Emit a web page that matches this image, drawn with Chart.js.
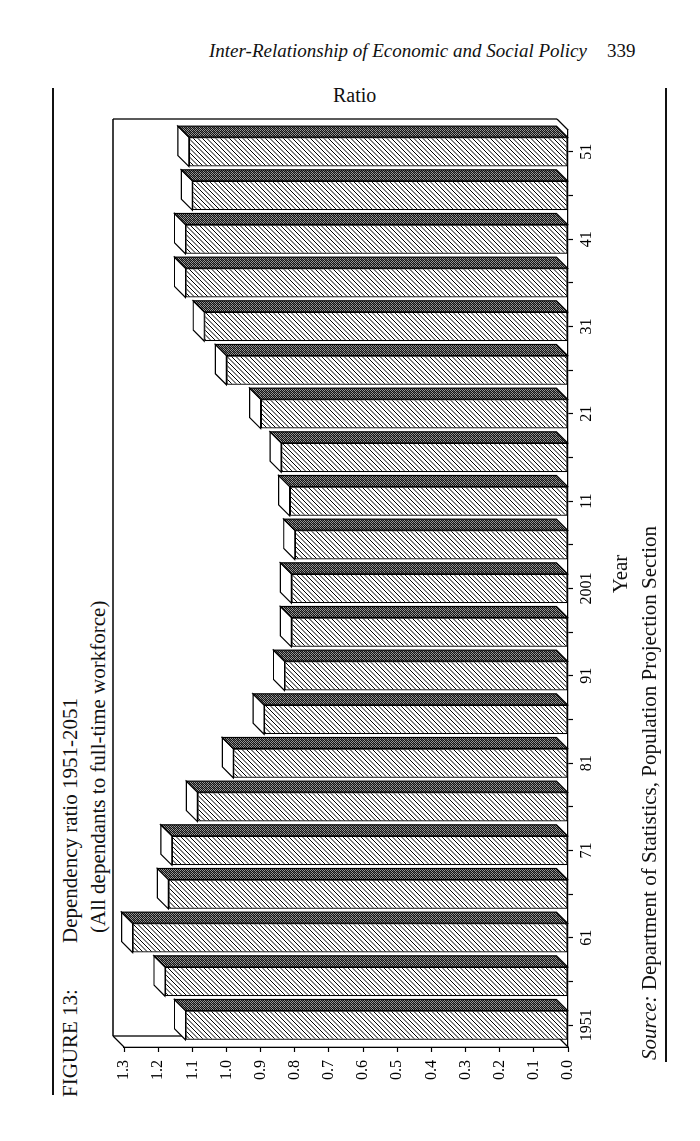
<!DOCTYPE html>
<html>
<head>
<meta charset="utf-8">
<title>Dependency ratio 1951-2051</title>
<script src="https://cdn.jsdelivr.net/npm/chart.js@4.4.1/dist/chart.umd.min.js"></script>
<style>
html, body { margin: 0; padding: 0; background: #fff; }
body { width: 700px; height: 1141px; position: relative; overflow: hidden;
       font-family: 'Liberation Serif', 'Times New Roman', serif; color: #111; }
.abs { position: absolute; white-space: nowrap; }
#header { left: 209px; top: 41px; font-size: 19px; line-height: 19px; font-style: italic; }
#pageNo { left: 607px; top: 41px; font-size: 19px; line-height: 19px; }
#ratio { left: 333px; top: 85px; font-size: 20px; line-height: 20px; }
/* the whole figure is printed sideways on the page */
#figure { position: absolute; left: 40px; top: 1110px; width: 1030px; height: 650px;
          transform-origin: 0 0; transform: rotate(-90deg); }
#chartBox { position: absolute; left: 0; top: 0; width: 1030px; height: 650px; }
.rule { position: absolute; background: #111; height: 1.5px; }
.ttl { font-size: 21px; line-height: 21px; }
</style>
</head>
<body>
<div id="header" class="abs">Inter-Relationship of Economic and Social Policy</div>
<div id="pageNo" class="abs">339</div>
<div id="ratio" class="abs">Ratio</div>

<div id="figure">
  <div class="rule" style="left:15px; top:12px; width:1007px;"></div>
  <div class="abs ttl" style="left:13px; top:20px;">FIGURE 13:</div>
  <div class="abs ttl" style="left:167px; top:20px;">Dependency ratio 1951-2051</div>
  <div class="abs ttl" style="left:177px; top:48px;">(All dependants to full-time workforce)</div>
  <div id="chartBox"><canvas id="chart"></canvas></div>
  <div class="abs ttl" style="left:486px; top:570px; width:100px; text-align:center;">Year</div>
  <div class="abs ttl" style="left:50px; top:599px;"><i>Source:</i> Department of Statistics, Population Projection Section</div>
  <div class="rule" style="left:48px; top:625px; width:974px;"></div>
</div>

<script>
// five-yearly points, labelled every ten years
const years = [1951, 1956, 1961, 1966, 1971, 1976, 1981, 1986, 1991, 1996, 2001,
               2006, 2011, 2016, 2021, 2026, 2031, 2036, 2041, 2046, 2051];
const yearLabels = ['1951', '', '61', '', '71', '', '81', '', '91', '', '2001',
                    '', '11', '', '21', '', '31', '', '41', '', '51'];
const ratios = [1.12, 1.18, 1.275, 1.17, 1.16, 1.085, 0.98, 0.89, 0.83, 0.81, 0.81,
                0.80, 0.815, 0.84, 0.90, 1.00, 1.065, 1.12, 1.12, 1.10, 1.11];
const ratioMin = 0;
const ratioMax = 1.3;
const ratioStep = 0.1;

const depth = 11;
const tickFont = {family: "'Liberation Serif', 'Times New Roman', serif", size: 16};

const canvas = document.getElementById('chart');
const ctx = canvas.getContext('2d');

// diagonal hatching for the bar fronts
function makeHatch(){
    const s = 9;
    const tile = document.createElement('canvas');
    tile.width = s;
    tile.height = s;
    const g = tile.getContext('2d');
    g.fillStyle = '#fff';
    g.fillRect(0, 0, s, s);
    g.strokeStyle = '#000';
    g.lineWidth = 1.0;
    for (let k = -s; k <= 2 * s; k += s / 2){
        g.beginPath();
        g.moveTo(k + 1, -1);
        g.lineTo(k - s - 1, s + 1);
        g.stroke();
    }
    return ctx.createPattern(tile, 'repeat');
}

// dark stipple for the bar sides
function makeStipple(){
    const tile = document.createElement('canvas');
    tile.width = 4;
    tile.height = 4;
    const g = tile.getContext('2d');
    const img = g.createImageData(4, 4);
    for (let j = 0; j < 4; j++){
        for (let i = 0; i < 4; i++){
            const v = ((i + j) % 2 === 0) ? 20 : ((i * j) % 3 === 0 ? 150 : 95);
            const p = (j * 4 + i) * 4;
            img.data[p] = v; img.data[p + 1] = v; img.data[p + 2] = v; img.data[p + 3] = 255;
        }
    }
    g.putImageData(img, 0, 0);
    return ctx.createPattern(tile, 'repeat');
}

const hatch = makeHatch();
const stipple = makeStipple();

function line(c, x1, y1, x2, y2){
    c.beginPath();
    c.moveTo(x1, y1);
    c.lineTo(x2, y2);
    c.stroke();
}

function poly(c, pts, fill){
    c.beginPath();
    c.moveTo(pts[0][0], pts[0][1]);
    for (let i = 1; i < pts.length; i++) c.lineTo(pts[i][0], pts[i][1]);
    c.closePath();
    c.fillStyle = fill;
    c.fill();
    c.stroke();
}

// back wall, side wall and floor edges, then the top and side of each bar
const depthPlugin = {
    id: 'depth3d',
    beforeDatasetsDraw(chart){
        const c = chart.ctx;
        const {left, right, top, bottom} = chart.chartArea;
        c.save();
        c.strokeStyle = '#000';
        c.lineWidth = 1.3;
        line(c, left + depth, top - depth, right + depth, top - depth);
        line(c, right + depth, top - depth, right + depth, bottom - depth);
        line(c, left + depth, top - depth, left + depth, bottom - depth);
        line(c, left, top, left + depth, top - depth);
        line(c, left, bottom, left + depth, bottom - depth);
        line(c, right, bottom, right + depth, bottom - depth);
        c.restore();
    },
    afterDatasetsDraw(chart){
        const c = chart.ctx;
        const meta = chart.getDatasetMeta(0);
        c.save();
        c.strokeStyle = '#000';
        c.lineWidth = 1.2;
        c.lineJoin = 'miter';
        meta.data.forEach(bar => {
            const {x, y, base, width} = bar.getProps(['x', 'y', 'base', 'width'], true);
            const l = x - width / 2;
            const r = x + width / 2;
            poly(c, [[l, y], [l + depth, y - depth], [r + depth, y - depth], [r, y]], '#fff');
            poly(c, [[r, y], [r + depth, y - depth], [r + depth, base - depth], [r, base]], stipple);
        });
        c.restore();
    }
};

new Chart(canvas, {
    type: 'bar',
    data: {
        labels: years,
        datasets: [{
            data: ratios,
            backgroundColor: hatch,
            borderColor: '#000',
            borderWidth: 1.3,
            borderSkipped: false,
            barPercentage: 0.672,
            categoryPercentage: 1
        }]
    },
    options: {
        responsive: true,
        maintainAspectRatio: false,
        animation: false,
        devicePixelRatio: 1,
        layout: {
            padding: {top: 84, left: 0, right: 50, bottom: 0}
        },
        plugins: {
            legend: {display: false},
            tooltip: {enabled: false}
        },
        scales: {
            x: {
                offset: true,
                grid: {
                    display: true,
                    drawOnChartArea: false,
                    offset: false,
                    tickLength: 5,
                    tickColor: '#000',
                    tickWidth: 1.2
                },
                border: {display: true, color: '#000', width: 1.3},
                ticks: {
                    autoSkip: false,
                    maxRotation: 0,
                    minRotation: 0,
                    padding: 4,
                    color: '#000',
                    font: tickFont,
                    callback: (value, index) => yearLabels[index]
                },
                afterFit: (scale) => { scale.height = 122; }
            },
            y: {
                min: ratioMin,
                max: ratioMax,
                grid: {
                    drawOnChartArea: false,
                    tickLength: 5,
                    tickColor: '#000',
                    tickWidth: 1.2
                },
                border: {display: true, color: '#000', width: 1.3},
                ticks: {
                    stepSize: ratioStep,
                    padding: 8,
                    color: '#000',
                    font: tickFont,
                    callback: (value) => value.toFixed(1)
                },
                afterFit: (scale) => { scale.width = 63; }
            }
        }
    },
    plugins: [depthPlugin]
});
</script>
</body>
</html>
